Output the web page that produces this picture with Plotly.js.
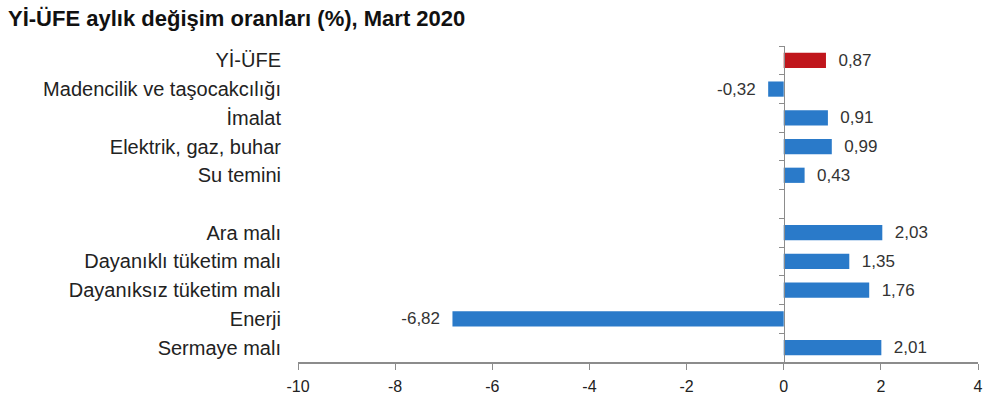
<!DOCTYPE html>
<html>
<head>
<meta charset="utf-8">
<script src="https://cdn.plot.ly/plotly-3.0.1.min.js"></script>
<style>
  html, body { margin: 0; padding: 0; background: #fff; }
  #grafik { width: 1000px; height: 400px; }
</style>
</head>
<body>
<div id="grafik"></div>
<script>
// Kategoriler (boş satır: iki grup arasındaki boşluk)
const kategoriler = [
    'Yİ-ÜFE',
    'Madencilik ve taşocakcılığı',
    'İmalat',
    'Elektrik, gaz, buhar',
    'Su temini',
    ' ',
    'Ara malı',
    'Dayanıklı tüketim malı',
    'Dayanıksız tüketim malı',
    'Enerji',
    'Sermaye malı'
];
const degerler = [0.87, -0.32, 0.91, 0.99, 0.43, null, 2.03, 1.35, 1.76, -6.82, 2.01];
const renkler = ['#c0161c', '#2a7ac9', '#2a7ac9', '#2a7ac9', '#2a7ac9', '#2a7ac9',
                 '#2a7ac9', '#2a7ac9', '#2a7ac9', '#2a7ac9', '#2a7ac9'];
const xTikler = [-10, -8, -6, -4, -2, 0, 2, 4];
const xEtiketler = ['-10', '-8', '-6', '-4', '-2', '0', '2', '4'];

// Etiketler virgüllü ondalık ile
const metinler = degerler.map(function(v) {
    if (v === null) return '';
    const s = v.toFixed(2).replace('.', ',');
    return v < 0 ? s + '  ' : '  ' + s;
});

const cubuklar = {
    type: 'bar',
    orientation: 'h',
    y: kategoriler,
    x: degerler,
    marker: { color: renkler },
    text: metinler,
    textposition: 'outside',
    constraintext: 'none',
    cliponaxis: false,
    textfont: { family: 'Liberation Sans, Arial, sans-serif', size: 17, color: '#333' },
    hoverinfo: 'skip'
};

// Sıfır eksenindeki küçük çentikler için görünmez kopya
const golge = {
    type: 'bar',
    orientation: 'h',
    y: kategoriler,
    x: degerler,
    yaxis: 'y2',
    marker: { color: 'rgba(0,0,0,0)' },
    hoverinfo: 'skip',
    showlegend: false
};

const sifirKonum = (0 - xTikler[0]) / (xTikler[xTikler.length - 1] - xTikler[0]);

Plotly.newPlot('grafik', [cubuklar, golge], {
    width: 1000, height: 400,
    margin: { l: 298, r: 22, t: 46, b: 38 },
    paper_bgcolor: '#fff',
    plot_bgcolor: '#fff',
    showlegend: false,
    bargap: 0.47,
    title: {
        text: '<b>Yİ-ÜFE aylık değişim oranları (%), Mart 2020</b>',
        x: 0.008, xanchor: 'left', xref: 'container',
        y: 0.955, yanchor: 'middle', yref: 'container',
        font: { family: 'Liberation Sans, Arial, sans-serif', size: 22, color: '#111' }
    },
    font: { family: 'Liberation Sans, Arial, sans-serif', color: '#222' },
    xaxis: {
        range: [xTikler[0], xTikler[xTikler.length - 1]],
        tickvals: xTikler,
        ticktext: xEtiketler,
        showgrid: false,
        zeroline: false,
        showline: true,
        linecolor: '#8c8c8c',
        linewidth: 1.5,
        ticks: 'outside',
        ticklen: 6,
        tickcolor: '#8c8c8c',
        ticklabelstandoff: 3,
        tickfont: { size: 16, color: '#222' },
        fixedrange: true
    },
    yaxis: {
        type: 'category',
        categoryorder: 'array',
        categoryarray: kategoriler,
        autorange: 'reversed',
        showgrid: false,
        zeroline: false,
        showline: false,
        ticks: '',
        ticklabelstandoff: 16,
        tickfont: { size: 20, color: '#222' },
        fixedrange: true
    },
    yaxis2: {
        type: 'category',
        categoryorder: 'array',
        categoryarray: kategoriler,
        autorange: 'reversed',
        overlaying: 'y',
        anchor: 'free',
        position: sifirKonum,
        side: 'left',
        showgrid: false,
        zeroline: false,
        showline: true,
        linecolor: '#8c8c8c',
        linewidth: 1.5,
        ticks: 'outside',
        tickson: 'boundaries',
        ticklen: 5,
        tickcolor: '#8c8c8c',
        showticklabels: false,
        fixedrange: true
    }
}, { displayModeBar: false, staticPlot: true });
</script>
</body>
</html>
